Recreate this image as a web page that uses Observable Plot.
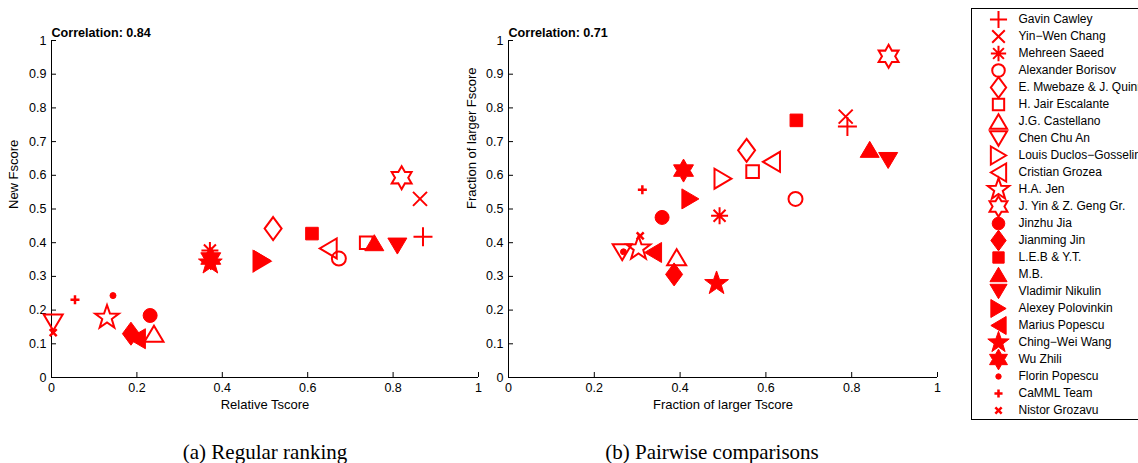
<!DOCTYPE html>
<html><head><meta charset="utf-8">
<script src="https://cdn.jsdelivr.net/npm/d3@7"></script>
<script src="https://cdn.jsdelivr.net/npm/@observablehq/plot@0.6"></script>
<style>
html,body{margin:0;padding:0;background:#fff;overflow:hidden;width:1138px;height:463px}
#root{position:relative;width:1138px;height:463px;overflow:hidden;font-family:"Liberation Sans",Arial,sans-serif}
.abs{position:absolute}
.cap{position:absolute;font-family:"Liberation Serif","DejaVu Serif",serif;font-size:21px;line-height:24px;top:440px;transform:translateX(-50%);white-space:nowrap;color:#000}
#legendBox{position:absolute;left:971px;top:8px;width:240px;height:412px;border:1px solid #000;box-sizing:border-box;background:#fff}
</style></head><body><div id="root"><div id="legendBox"></div></div>
<script>
// ---- data ----
const participants = ["Gavin Cawley","Yin−Wen Chang","Mehreen Saeed","Alexander Borisov","E. Mwebaze & J. Quinn","H. Jair Escalante","J.G. Castellano","Chen Chu An","Louis Duclos−Gosselin","Cristian Grozea","H.A. Jen","J. Yin & Z. Geng Gr.","Jinzhu Jia","Jianming Jin","L.E.B & Y.T.","M.B.","Vladimir Nikulin","Alexey Polovinkin","Marius Popescu","Ching−Wei Wang","Wu Zhili","Florin Popescu","CaMML Team","Nistor Grozavu"];
const markerKinds = ["plus","times","asterisk","circle","diamond","square","triUp","triDown","triRight","triLeft","pentagram","hexagram","circle","diamond","square","triUp","triDown","triRight","triLeft","pentagram","hexagram","dot","smallPlus","smallTimes"];
const filledFlags = [false,false,false,false,false,false,false,false,false,false,false,false,true,true,true,true,true,true,true,true,true,true,false,false];
// (a) Regular ranking
const relativeTscore = [0.870,0.863,0.371,0.673,0.519,0.737,0.240,0.004,0.493,0.648,0.130,0.820,0.231,0.186,0.610,0.756,0.810,0.494,0.200,0.372,0.373,0.144,0.055,0.004];
const newFscore      = [0.418,0.530,0.377,0.353,0.442,0.400,0.130,0.163,0.345,0.383,0.178,0.593,0.184,0.130,0.427,0.400,0.390,0.347,0.115,0.340,0.353,0.243,0.231,0.133];
// (b) Pairwise comparisons
const fracLargerTscore = [0.790,0.786,0.492,0.669,0.555,0.569,0.392,0.265,0.500,0.613,0.303,0.886,0.358,0.386,0.671,0.842,0.885,0.424,0.337,0.485,0.408,0.268,0.312,0.307];
const fracLargerFscore = [0.745,0.774,0.480,0.530,0.674,0.611,0.357,0.372,0.590,0.640,0.383,0.953,0.475,0.306,0.763,0.677,0.644,0.530,0.371,0.279,0.614,0.373,0.557,0.420];
const correlations = ["Correlation: 0.84","Correlation: 0.71"];
const xTicks = [0,0.2,0.4,0.6,0.8,1];
const xTickLabels = ["0","0.2","0.4","0.6","0.8","1"];
const yTicks = [0,0.1,0.2,0.3,0.4,0.5,0.6,0.7,0.8,0.9,1];
const yTickLabels = ["0","0.1","0.2","0.3","0.4","0.5","0.6","0.7","0.8","0.9","1"];
const captions = ["(a) Regular ranking","(b) Pairwise comparisons"];

// ---- marker shapes (MATLAB-like) ----
function sym(fn){ return {draw(c, size){ const k = Math.sqrt(size/Math.PI)/7; fn(c,k); }}; }
function starPath(c, n, ro, ri, rot){
  for (let i=0;i<2*n;i++){ const r = i%2? ri: ro; const a = rot + i*Math.PI/n; const x=r*Math.sin(a), y=-r*Math.cos(a); if(i===0)c.moveTo(x,y); else c.lineTo(x,y);} c.closePath();
}
const SYMS = {
  plus: sym((c,k)=>{const a=9.5*k; c.moveTo(-a,0);c.lineTo(a,0);c.moveTo(0,-a);c.lineTo(0,a);}),
  times: sym((c,k)=>{const a=7*k; c.moveTo(-a,-a);c.lineTo(a,a);c.moveTo(-a,a);c.lineTo(a,-a);}),
  asterisk: sym((c,k)=>{const a=8.5*k,b=6*k; c.moveTo(-a,0);c.lineTo(a,0);c.moveTo(0,-a);c.lineTo(0,a);c.moveTo(-b,-b);c.lineTo(b,b);c.moveTo(-b,b);c.lineTo(b,-b);}),
  circle: sym((c,k)=>{const r=7*k; c.moveTo(r,0); c.arc(0,0,r,0,2*Math.PI); c.closePath();}),
  diamond: sym((c,k)=>{const w=8.5*k,h=11.5*k; c.moveTo(0,-h);c.lineTo(w,0);c.lineTo(0,h);c.lineTo(-w,0);c.closePath();}),
  square: sym((c,k)=>{const a=6.3*k; c.moveTo(-a,-a);c.lineTo(a,-a);c.lineTo(a,a);c.lineTo(-a,a);c.closePath();}),
  triUp: sym((c,k)=>{const w=9.5*k,h=8*k; c.moveTo(0,-h);c.lineTo(w,h);c.lineTo(-w,h);c.closePath();}),
  triDown: sym((c,k)=>{const w=9.5*k,h=8*k; c.moveTo(0,h);c.lineTo(w,-h);c.lineTo(-w,-h);c.closePath();}),
  triRight: sym((c,k)=>{const w=8.5*k,h=10*k; c.moveTo(w,0);c.lineTo(-w,h);c.lineTo(-w,-h);c.closePath();}),
  triLeft: sym((c,k)=>{const w=8.5*k,h=10*k; c.moveTo(-w,0);c.lineTo(w,h);c.lineTo(w,-h);c.closePath();}),
  pentagram: sym((c,k)=>starPath(c,5,12.5*k,5*k,0)),
  hexagram: sym((c,k)=>starPath(c,6,11.5*k,6.6*k,0)),
  dot: sym((c,k)=>{const r=3*k; c.moveTo(r,0); c.arc(0,0,r,0,2*Math.PI); c.closePath();}),
  smallPlus: sym((c,k)=>{const a=4.5*k; c.moveTo(-a,0);c.lineTo(a,0);c.moveTo(0,-a);c.lineTo(0,a);}),
  smallTimes: sym((c,k)=>{const a=3.5*k; c.moveTo(-a,-a);c.lineTo(a,a);c.moveTo(-a,a);c.lineTo(a,-a);})
};
const symbolRange = markerKinds.map(m => SYMS[m]);
const widthOf = i => (markerKinds[i]==="smallPlus"||markerKinds[i]==="smallTimes") ? 2.5 : (filledFlags[i] ? 1 : 2);

const FONT = "'Liberation Sans', Arial, Helvetica, sans-serif";
const root = document.getElementById("root");

function scatter(xs, ys, xLabel, yLabel, corr, left, mL, mR){
  const W = 500, H = 420, mT = 40, mB = 43;
  const innerW = W - mL - mR, innerH = H - mT - mB;
  const data = participants.map((name,i)=>({name, i, x: xs[i], y: ys[i]}));
  const svg = Plot.plot({
    width: W, height: H, marginLeft: mL, marginRight: mR, marginTop: mT, marginBottom: mB,
    x: {domain: [0,1]}, y: {domain: [0,1]},
    symbol: {domain: participants, range: symbolRange},
    color: {type: "identity"},
    style: {fontFamily: FONT, fontSize: "12.5px", background: "transparent", overflow: "visible", color: "#000"},
    marks: [
      Plot.ruleY([0], {stroke: "#000"}),
      Plot.ruleX([0], {stroke: "#000"}),
      Plot.ruleX(xTicks, {stroke: "#000", insetTop: innerH - 5}),
      Plot.ruleY(yTicks, {stroke: "#000", insetRight: innerW - 5}),
      Plot.axisX({ticks: xTicks, tickFormat: d => xTickLabels[xTicks.indexOf(d)], tickSize: 0, tickPadding: 6, label: null, fontSize: 12.5}),
      Plot.axisY({ticks: yTicks, tickFormat: d => yTickLabels[yTicks.indexOf(d)], tickSize: 0, tickPadding: 5, label: null, fontSize: 12.5}),
      Plot.text([xLabel], {text: d => d, frameAnchor: "bottom", lineAnchor: "middle", dy: 27, fontSize: 13}),
      Plot.text([yLabel], {text: d => d, frameAnchor: "left", lineAnchor: "middle", dx: -(mL - 13), rotate: -90, fontSize: 13}),
      Plot.text([corr], {text: d => d, frameAnchor: "top-left", lineAnchor: "middle", textAnchor: "start", dy: -7.5, fontWeight: "bold", fontSize: 12.6}),
      Plot.dot(data, {x: "x", y: "y", symbol: "name", r: 7, stroke: "red",
        fill: d => filledFlags[d.i] ? "red" : "none", strokeWidth: d => widthOf(d.i)})
    ]
  });
  svg.classList.add("abs");
  svg.style.left = left + "px"; svg.style.top = "0px";
  root.appendChild(svg);
}
scatter(relativeTscore, newFscore, "Relative Tscore", "New Fscore", correlations[0], 0, 51, 22);
scatter(fracLargerTscore, fracLargerFscore, "Fraction of larger Tscore", "Fraction of larger Fscore", correlations[1], 458, 50, 21);

// legend (rows positioned by index through a linear y scale)
const legendRows = participants.map((name,i)=>({name, i}));
const leg = Plot.plot({
  width: 240, height: 410, marginTop: 0, marginBottom: 0, marginLeft: 0, marginRight: 0,
  y: {type: "linear", domain: [0, participants.length - 1], range: [11, 402], axis: null},
  symbol: {domain: participants, range: symbolRange},
  color: {type: "identity"},
  style: {fontFamily: FONT, fontSize: "12px", background: "transparent", overflow: "visible"},
  marks: [
    Plot.dot(legendRows, {y: "i", frameAnchor: "left", dx: 27, symbol: "name", r: 6.3, stroke: "red",
      fill: d => filledFlags[d.i] ? "red" : "none", strokeWidth: d => widthOf(d.i)}),
    Plot.text(legendRows, {y: "i", text: "name", frameAnchor: "left", dx: 47, textAnchor: "start", fontSize: 12, fill: "#000"})
  ]
});
leg.classList.add("abs");
leg.style.left = "971px"; leg.style.top = "8px";
root.appendChild(leg);

// captions
[[captions[0], 265], [captions[1], 712]].forEach(([t, cx]) => {
  const d = document.createElement("div"); d.className = "cap"; d.textContent = t; d.style.left = cx + "px"; root.appendChild(d);
});
</script></body></html>
